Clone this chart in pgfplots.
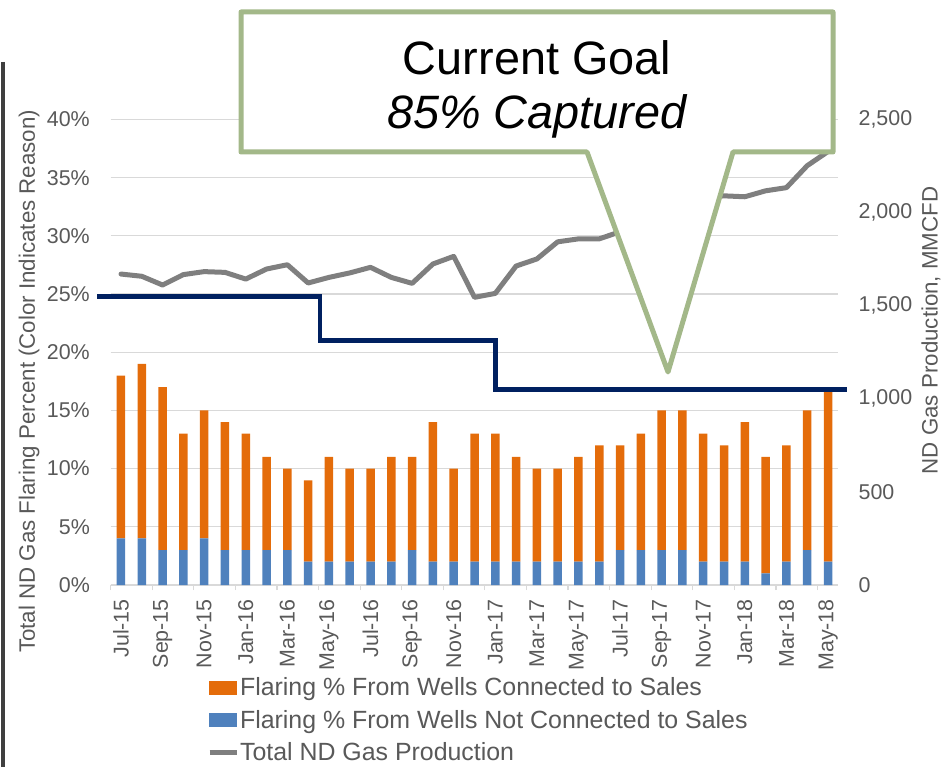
\documentclass[border=0pt]{standalone}
\usepackage{fontspec}
\setmainfont{Liberation Sans}
\usepackage{pgfplots}
\usepackage{pgfplotstable}
\pgfplotsset{compat=1.18}
\definecolor{orangeC}{HTML}{E46C0A}
\definecolor{blueC}{HTML}{4F81BD}
\definecolor{grayL}{HTML}{7F7F7F}
\definecolor{navyC}{HTML}{002060}
\definecolor{greenB}{HTML}{A3B889}
\definecolor{txt}{HTML}{595959}
\definecolor{gridC}{HTML}{D9D9D9}
\definecolor{borderC}{HTML}{3F3F3F}

\pgfplotstableread{
x blue orange gas
0  4 14 1670
1  4 15 1658
2  3 14 1611
3  3 10 1667
4  4 11 1683
5  3 11 1679
6  3 10 1643
7  3  8 1697
8  3  7 1720
9  2  7 1622
10 2  9 1652
11 2  8 1676
12 2  8 1706
13 2  9 1652
14 3  8 1620
15 2 12 1724
16 2  8 1765
17 2 11 1545
18 2 11 1566
19 2  9 1713
20 2  8 1751
21 2  8 1843
22 2  9 1859
23 2 10 1859
24 3  9 1897
25 3 10 1960
26 3 12 2010
27 3 12 2055
28 2 11 2080
29 2 10 2090
30 2 12 2085
31 1 10 2117
32 2 10 2134
33 3 12 2252
34 2 15 2328
}\data

\pgfplotstableread{
x goal
-1.15 24.8
9.57  21.0
18.0  16.8
34.9  16.8
}\goal

\begin{document}
\begin{tikzpicture}
\path[use as bounding box] (-110.6bp,-182bp) rectangle (832.4bp,585bp);
\draw[color=borderC, line width=4bp] (-107.6bp,523bp) -- (-107.6bp,-185bp);

\begin{axis}[
  at={(0,0)}, anchor=south west,
  scale only axis, width=727.8bp, height=465.5bp,
  xmin=-0.5, xmax=34.5, ymin=0, ymax=40,
  ybar stacked, bar width=8.5bp,
  axis x line*=bottom, axis y line*=left,
  x axis line style={draw=gridC, line width=1.2bp},
  y axis line style={draw=none},
  tick align=outside,
  major tick length=0pt,
  xtick={0,2,...,34},
  xticklabels={Jul-15,Sep-15,Nov-15,Jan-16,Mar-16,May-16,Jul-16,Sep-16,Nov-16,Jan-17,Mar-17,May-17,Jul-17,Sep-17,Nov-17,Jan-18,Mar-18,May-18},
  x tick label style={rotate=90, anchor=east, inner sep=0pt, xshift=-14bp, font=\fontsize{21.5}{21.5}\selectfont, text=txt},
  extra x ticks={-0.5,1.5,...,33.5},
  extra x tick labels={},
  extra x tick style={major tick length=5bp, tick style={draw=gridC, line width=1.2bp}, grid=none},
  ytick={0,5,...,40},
  yticklabel={\pgfmathprintnumber{\tick}\%},
  y tick label style={anchor=east, inner sep=0pt, xshift=-20.6bp, font=\fontsize{21.5}{21.5}\selectfont, text=txt},
  /pgf/number format/assume math mode=true,
  ymajorgrids, major grid style={draw=gridC, line width=1.2bp},
  ylabel={Total ND Gas Flaring Percent (Color Indicates Reason)},
  ylabel style={at={(axis description cs:-0.1121,0.4375)}, anchor=center, font=\fontsize{22.4}{22.4}\selectfont, text=txt},
  legend style={at={(axis description cs:0.1325,-0.199)}, anchor=north west, draw=none, fill=none,
    inner sep=0pt, outer sep=0pt, row sep=13bp, column sep=1bp,
    font=\fontsize{25}{25}\selectfont, text=txt,
    nodes={inner sep=0pt}},
  legend cell align=left,
]
\addlegendimage{legend image code/.code={\fill[orangeC] (0bp,-6.5bp) rectangle (27bp,6.5bp);}}
\addlegendentry{Flaring \% From Wells Connected to Sales}
\addlegendimage{legend image code/.code={\fill[blueC] (0bp,-6.5bp) rectangle (27bp,6.5bp);}}
\addlegendentry{Flaring \% From Wells Not Connected to Sales}
\addlegendimage{legend image code/.code={\draw[grayL, line width=5bp] (0bp,0bp) -- (27bp,0bp);}}
\addlegendentry{Total ND Gas Production}
\addplot[fill=blueC, draw=none, forget plot] table[x=x, y=blue] {\data};
\addplot[fill=orangeC, draw=none, forget plot] table[x=x, y=orange] {\data};
\end{axis}

\begin{axis}[
  at={(0,0)}, anchor=south west,
  scale only axis, width=727.8bp, height=465.5bp,
  xmin=-0.5, xmax=34.5, ymin=0, ymax=2500,
  axis x line=none, axis y line*=right,
  y axis line style={draw=none},
  major tick length=0pt,
  ytick={0,500,...,2500},
  /pgf/number format/.cd, 1000 sep={,}, assume math mode=true, /pgfplots/.cd,
  y tick label style={anchor=west, inner sep=0pt, xshift=20bp, font=\fontsize{21.5}{21.5}\selectfont, text=txt},
  ylabel={ND Gas Production, MMCFD},
  ylabel style={at={(axis description cs:1.1272,0.547)}, anchor=center, rotate=0, font=\fontsize{22.4}{22.4}\selectfont, text=txt},
]
\addplot[grayL, line width=5bp, line join=round, line cap=round, mark=none] table[x=x, y=gas] {\data};
\end{axis}

\begin{axis}[
  at={(0,0)}, anchor=south west,
  scale only axis, width=727.8bp, height=465.5bp,
  xmin=-0.5, xmax=34.5, ymin=0, ymax=40,
  hide axis, clip=false,
]
\addplot[navyC, line width=4.5bp, const plot, mark=none] table[x=x, y=goal] {\goal};
\end{axis}

\draw[greenB, line width=5bp, fill=white, line join=round]
  (130.4bp,573bp) -- (722.4bp,573bp) -- (722.4bp,433bp) -- (622.4bp,433bp)
  -- (557.4bp,213bp) -- (476.4bp,433bp) -- (130.4bp,433bp) -- cycle;
\node[anchor=base, inner sep=0pt, font=\fontsize{47}{47}\selectfont] at (426.4bp,510bp) {Current Goal};
\node[anchor=base, inner sep=0pt, font=\fontsize{47}{47}\selectfont\itshape] at (426.4bp,456bp) {85\% Captured};
\end{tikzpicture}
\end{document}
